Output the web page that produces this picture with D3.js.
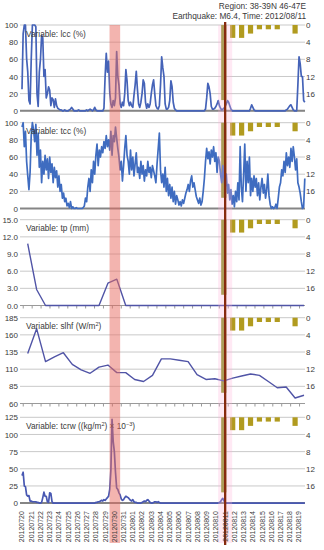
<!DOCTYPE html>
<meta charset="utf-8">
<style>
body { margin: 0; background: #fff; }
svg text { font-family: "Liberation Sans", Arial, sans-serif; fill: #3a3a3a; }
</style>
<body>
<div id="chart"></div>
<script src="https://d3js.org/d3.v7.min.js"></script>
<script>
// tick labels under the bottom panel (one per day)
var dates = ["20120720","20120721","20120722","20120723","20120724","20120725","20120726","20120727",
  "20120728","20120729","20120730","20120731","20120801","20120802","20120803","20120804","20120805",
  "20120806","20120807","20120808","20120809","20120810","20120811","20120812","20120813","20120814",
  "20120815","20120816","20120817","20120818","20120819"];

// 3-hourly series (8 values per day)
var lcc = [25,90,100,100,61,45,12,8,60,100, 100,100,98,20,5,45,60,88,85,40,
  48,15,20,28,24,6,15,13,4,14, 6,3,2,1,1,0,0,1,0,0,
  0,1,2,4,2,0,0,0,0,1, 0,0,0,0,0,0,1,0,1,2,
  1,0,1,4,1,0,0,0,0,0, 0,3,40,67,45,58,22,8,4,12,
  6,15,69,40,30,8,4,10,6,20, 48,35,12,6,10,6,4,18,30,46,
  25,8,4,10,20,36,32,10,3,8, 4,8,20,30,36,20,6,3,2,6,
  30,63,50,40,8,2,2,4,12,35, 28,10,3,1,0,0,0,0,0,0,
  0,0,0,0,0,0,0,0,0,0, 0,0,0,0,0,0,0,0,0,2,
  15,32,28,20,5,2,2,3,5,8, 12,6,3,1,2,3,5,8,12,10,
  6,2,0,0,0,0,0,0,0,0, 0,0,0,0,0,0,0,0,3,7,
  4,1,0,0,0,0,0,0,0,0, 0,0,0,0,0,0,0,0,0,0,
  0,0,0,0,0,0,0,0,0,1, 2,4,6,7,4,1,0,0,0,30,
  63,55,40,40,12,10];

var tcc = [95,100,72,90,55,38,22,42, 85,100,92,78,98,62,88,48,
  68,30,55,40,62,45,58,35, 60,42,52,30,48,36,44,25,
  38,20,28,12,18,8,12,3, 6,1,8,0,2,0,0,1,
  0,0,0,0,0,1,3,12, 8,25,35,20,45,30,55,40,
  62,75,50,68,60,72,65,78, 70,85,72,80,68,90,62,85,
  78,95,82,70,60,45,55,32, 50,70,85,62,55,40,68,45,
  60,38,52,65,42,48,35,55, 40,50,32,45,38,55,42,48,
  36,50,44,38,30,52,70,88, 45,30,40,25,48,20,35,15,
  28,12,25,8,20,5,15,10, 4,8,3,10,6,12,18,22,
  28,20,32,38,25,30,22,14, 10,6,12,4,8,20,35,55,
  70,58,66,52,68,60,72,55, 65,42,60,55,40,30,50,35,
  25,40,18,28,10,22,5,15, 2,20,8,30,10,72,25,8,
  40,75,20,55,30,60,15,35, 20,38,25,35,15,30,10,25,
  35,18,28,12,22,40,15,5, 0,2,0,1,5,0,12,25,
  30,45,38,55,42,65,50,60, 48,70,55,72,60,45,58,30,
  25,18,8,0,2,35];

var tcrw = [40,45,25,24,12,10,11,3,3,2, 2,2,2,1,1,0,0,1,8,16,
  10,10,2,1,15,14,2,0,0,0, 0,0,0,0,0,0,0,0,0,0,
  0,0,0,0,0,0,0,0,0,0, 0,0,0,0,0,0,0,0,0,0,
  0,0,0,0,1,1,2,2,3,4, 3,5,4,6,8,10,20,48,122,90,
  75,45,22,20,15,12,6,4,5,8, 10,9,8,6,4,3,5,2,1,1,
  0,0,0,0,1,2,3,2,4,5, 3,1,0,0,1,2,2,1,2,1,
  0,0,0,0,0,0,0,0,0,0, 0,0,0,0,0,0,0,0,0,0,
  0,0,0,0,0,0,0,0,0,0, 0,0,0,0,0,0,0,0,0,0,
  0,0,0,0,0,0,0,0,0,0, 0,1,2,5,7,3,1,0,0,0,
  0,0,0,0,0,0,0,0,0,0, 0,0,0,0,0,0,0,0,0,0,
  0,0,0,0,0,0,0,0,0,0, 0,0,0,0,0,0,0,0,0,0,
  0,0,0,0,0,0,0,0,0,0, 0,0,0,0,0,0,0,0,0,0,
  0,0,0,0,0,0];

// daily series (32 values)
var tp = [10.8,2.8,0,0,0,0,0,0,0,3.9,4.6,0,0,0,0,0,0,0,0,0,0,0,0,0,0,0,0,0,0,0,0,0];
var slhf = [133,169,121,128,134,117,109,104,113,116,105,105,95,92,101,125,
  125,123,121,102,95,96,93,97,100,103,101,92,83,84,68,72];

// earthquake counts per day (right axis, inverted 0-20)
var quakes = [0,0,0,0,0,0,0,0,0,0,0,0,0,0,0,0,0,0,0,0,0,0,17.5,3,3,2,1,1,1,0,2,0];
var quakeDay = 22;   // 20120811
var bandDay = 10;    // 20120730

var title1 = "Region: 38-39N 46-47E";
var title2 = "Earthquake: M6.4, Time: 2012/08/11";

var width = 324, height = 550;
var plotLeft = 20, plotRight = 305;
var panelTop = [25, 122.7, 219.7, 317.7, 417.3], panelH = 85.8;

var svg = d3.select("#chart").append("svg")
    .attr("width", width).attr("height", height);

// dense series: days since 20120720 00:00
var xTime = d3.scaleLinear().domain([0, 245 / 8]).range([22, 304.8]);
// daily series on their own category axis
var xDay = d3.scaleLinear().domain([0, 31]).range([27.7, 304]);

var panels = [
  { label: [["Variable: lcc (%)"]], values: lcc, daily: false, domain: [0, 100], step: 20, fmt: "d", color: "#4563b8" },
  { label: [["Variable: tcc (%)"]], values: tcc, daily: false, domain: [0, 100], step: 20, fmt: "d", color: "#3f6cc0" },
  { label: [["Variable: tp (mm)"]], values: tp, daily: true, domain: [0, 15], step: 3, fmt: ".1f", color: "#5054a6" },
  { label: [["Variable: slhf (W/m"], ["2", true], [")"]], values: slhf, daily: true, domain: [60, 185], step: 25, fmt: "d", color: "#5054a6" },
  { label: [["Variable: tcrw ((kg/m"], ["2", true], [") \u00d7 10"], ["\u22123", true], [")"]], values: tcrw, daily: false, domain: [0, 125], step: 25, fmt: "d", color: "#4858b2" }
];

panels.forEach(function(p, i) {
  var top = panelTop[i], bottom = top + panelH;
  var y = d3.scaleLinear().domain(p.domain).range([bottom, top]);
  var yR = d3.scaleLinear().domain([0, 20]).range([top, bottom]);
  var ticks = d3.range(p.domain[0], p.domain[1] + 0.001, p.step);
  var g = svg.append("g");

  // gridlines
  g.selectAll(".grid").data(ticks).enter().append("line")
    .attr("x1", plotLeft).attr("x2", plotRight)
    .attr("y1", function(d) { return y(d); }).attr("y2", function(d) { return y(d); })
    .attr("stroke", "#c9c9c9").attr("stroke-width", 1);

  // left axis
  var ax = g.append("g").attr("transform", "translate(" + (plotLeft - 1) + ",0)")
    .call(d3.axisLeft(y).tickValues(ticks).tickFormat(d3.format(p.fmt)).tickSize(0).tickPadding(1));
  ax.select(".domain").remove();
  ax.attr("font-size", 8).attr("font-family", null);

  // right axis (earthquakes)
  var axr = g.append("g").attr("transform", "translate(" + plotRight + ",0)")
    .call(d3.axisRight(yR).tickValues([0, 4, 8, 12, 16]).tickSize(0).tickPadding(1));
  axr.select(".domain").remove();
  axr.attr("font-size", 8).attr("font-family", null);

  // earthquake bars hanging from the top
  var bars = quakes.map(function(v, k) { return { k: k, v: v }; }).filter(function(d) { return d.v > 0; });
  g.selectAll(".bar").data(bars).enter().append("rect")
    .attr("x", function(d) { return xDay(d.k) - 2.6; })
    .attr("width", 5.2)
    .attr("y", top)
    .attr("height", function(d) { return yR(d.v) - top; })
    .attr("fill", function(d) { return d.k === quakeDay ? "#8c9628" : "#b19b1f"; });

  // baseline
  g.append("line")
    .attr("x1", plotLeft).attr("x2", plotRight)
    .attr("y1", bottom).attr("y2", bottom)
    .attr("stroke", p.daily ? "#9a9a9a" : "#858585")
    .attr("stroke-width", p.daily ? 1 : 2);

  // small category ticks on daily panels
  if (p.daily) {
    g.selectAll(".tick2").data(d3.range(0, 32)).enter().append("line")
      .attr("x1", function(k) { return xDay(k - 0.5); })
      .attr("x2", function(k) { return xDay(k - 0.5); })
      .attr("y1", bottom).attr("y2", bottom + 3)
      .attr("stroke", "#9a9a9a");
  }

  // data line
  var line = d3.line()
    .x(function(d, j) { return p.daily ? xDay(j) : xTime(j / 8); })
    .y(function(d) { return y(d); });
  g.append("path")
    .datum(p.values)
    .attr("d", line)
    .attr("fill", "none")
    .attr("stroke", p.color)
    .attr("stroke-width", p.daily ? 1.4 : 1.7)
    .attr("stroke-linejoin", "round");

  // variable label
  var t = g.append("text").attr("x", 26).attr("y", top + 11.5).attr("font-size", 8.3);
  p.label.forEach(function(part) {
    t.append("tspan")
      .attr("font-size", part[1] ? 5.5 : 8.3)
      .attr("dy", part[1] ? -3 : (t.selectAll("tspan").size() > 1 ? 3 : 0))
      .text(part[0]);
  });
});

// highlighted day band
var bandTop = panelTop[0], bandBottom = 543;
svg.append("rect")
  .attr("x", xTime(bandDay) - 4.8).attr("width", 10.6)
  .attr("y", bandTop).attr("height", bandBottom - bandTop)
  .attr("fill", "#e86a60").attr("opacity", 0.5);

// earthquake window
svg.append("rect")
  .attr("x", xTime(quakeDay) - 7).attr("width", 14)
  .attr("y", bandTop).attr("height", bandBottom - bandTop)
  .attr("fill", "#ffb0d8").attr("opacity", 0.28);

// earthquake line
svg.append("line")
  .attr("x1", xTime(quakeDay)).attr("x2", xTime(quakeDay))
  .attr("y1", 22).attr("y2", 545)
  .attr("stroke", "#862a0e").attr("stroke-width", 2.3);

// date labels
var lastBottom = panelTop[4] + panelH;
svg.selectAll(".dlab").data(dates).enter().append("text")
  .attr("transform", function(d, k) { return "translate(" + xTime(k) + "," + (lastBottom + 8) + ") rotate(-90)"; })
  .attr("text-anchor", "end")
  .attr("dy", "0.35em")
  .attr("font-size", 7)
  .text(function(d) { return d; });

// titles
svg.append("text").attr("x", 306).attr("y", 8.5).attr("text-anchor", "end")
  .attr("font-size", 8.3).text(title1);
svg.append("text").attr("x", 306).attr("y", 19).attr("text-anchor", "end")
  .attr("font-size", 8.3).text(title2);
</script>
</body>
